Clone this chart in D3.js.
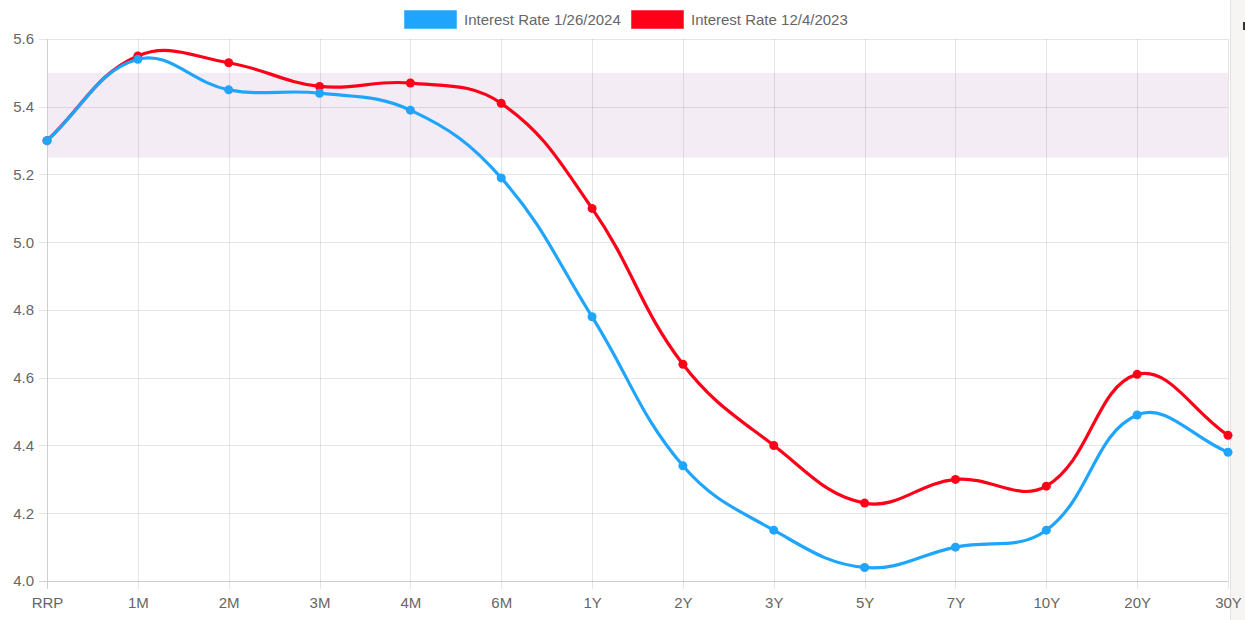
<!DOCTYPE html>
<html><head><meta charset="utf-8">
<script src="https://cdn.jsdelivr.net/npm/d3@7"></script>
<style>
html,body{margin:0;padding:0;background:#fff;overflow:hidden}
svg{display:block}
</style></head>
<body>
<script>
const categories = ["RRP","1M","2M","3M","4M","6M","1Y","2Y","3Y","5Y","7Y","10Y","20Y","30Y"];
const rates2024 = [5.30,5.54,5.45,5.44,5.39,5.19,4.78,4.34,4.15,4.04,4.10,4.15,4.49,4.38];
const rates2023 = [5.30,5.55,5.53,5.46,5.47,5.41,5.10,4.64,4.40,4.23,4.30,4.28,4.61,4.43];
const seriesNames = ["Interest Rate 1/26/2024","Interest Rate 12/4/2023"];
const seriesColors = ["#1fa5fd","#ff0019"];
const yTicks = [4.0,4.2,4.4,4.6,4.8,5.0,5.2,5.4,5.6];
const band = [5.25,5.50];

const W=1245,H=620;
const L=47,R=1228,T=39,B=581;
const svg=d3.select("body").append("svg").attr("width",W).attr("height",H);
const font="'Liberation Sans', Arial, Helvetica, sans-serif";

// right side panel
svg.append("rect").attr("x",1230).attr("y",0).attr("width",15).attr("height",H).attr("fill","#f6f5f4");
svg.append("line").attr("x1",1230.5).attr("x2",1230.5).attr("y1",0).attr("y2",H).attr("stroke","#e6e4e2");
svg.append("rect").attr("x",1243).attr("y",22).attr("width",2).attr("height",8).attr("fill","#333");

const x=d3.scalePoint().domain(categories).range([L,R]);
const y=d3.scaleLinear().domain([4.0,5.6]).range([B,T]);

// band
svg.append("rect").attr("x",L).attr("width",R-L)
  .attr("y",y(band[1])).attr("height",y(band[0])-y(band[1]))
  .attr("fill","#f3ecf4");

// gridlines
const g=svg.append("g");
yTicks.forEach(t=>{
  const yy=Math.round(y(t))+0.5;
  g.append("line").attr("x1",L-8).attr("x2",R).attr("y1",yy).attr("y2",yy)
   .attr("stroke", t===4.0 ? "#cfcfcf" : "rgba(0,0,0,0.1)");
});
categories.forEach((c,i)=>{
  const xx=Math.round(x(c))+0.5;
  g.append("line").attr("x1",xx).attr("x2",xx).attr("y1",T).attr("y2",B+8)
   .attr("stroke", i===0 ? "#cfcfcf" : "rgba(0,0,0,0.1)");
});

// axes labels via d3 axes
const yAxis=svg.append("g").attr("transform",`translate(${L-8},0)`)
  .call(d3.axisLeft(y).tickValues(yTicks).tickFormat(d3.format(".1f")).tickSize(0).tickPadding(5));
const xAxis=svg.append("g").attr("transform",`translate(0,${B+8})`)
  .call(d3.axisBottom(x).tickSize(0).tickPadding(8));
[yAxis,xAxis].forEach(a=>{
  a.select(".domain").remove();
  a.selectAll("text").attr("fill","#666").style("font-family",font).style("font-size","15px");
});

// Chart.js-like spline path
function splinePath(vals){
  const pts=categories.map((c,i)=>({x:x(c),y:y(vals[i])}));
  const t=0.4;
  const cps=pts.map((p,i)=>{
    const prev=pts[Math.max(0,i-1)], next=pts[Math.min(pts.length-1,i+1)];
    const d01=Math.hypot(p.x-prev.x,p.y-prev.y), d12=Math.hypot(next.x-p.x,next.y-p.y);
    let s01=d01/(d01+d12), s12=d12/(d01+d12);
    if(isNaN(s01))s01=0; if(isNaN(s12))s12=0;
    const fa=t*s01, fb=t*s12;
    const cp1={x:p.x-fa*(next.x-prev.x), y:p.y-fa*(next.y-prev.y)};
    const cp2={x:p.x+fb*(next.x-prev.x), y:p.y+fb*(next.y-prev.y)};
    const clamp=(q)=>({x:Math.max(L,Math.min(R,q.x)),y:Math.max(T,Math.min(B,q.y))});
    return {cp1:clamp(cp1),cp2:clamp(cp2)};
  });
  const path=d3.path();
  path.moveTo(pts[0].x,pts[0].y);
  for(let i=1;i<pts.length;i++){
    path.bezierCurveTo(cps[i-1].cp2.x,cps[i-1].cp2.y,cps[i].cp1.x,cps[i].cp1.y,pts[i].x,pts[i].y);
  }
  return path.toString();
}

const series=[rates2024,rates2023];
// draw second dataset first so the first is on top
[1,0].forEach(si=>{
  const vals=series[si];
  svg.append("path").attr("d",splinePath(vals)).attr("fill","none")
    .attr("stroke",seriesColors[si]).attr("stroke-width",3.2);
  svg.append("g").selectAll("circle").data(vals).join("circle")
    .attr("cx",(d,i)=>x(categories[i])).attr("cy",d=>y(d)).attr("r",4.5)
    .attr("fill",seriesColors[si]);
});

// legend
const legend=[{x:404,tx:464},{x:631,tx:691}];
seriesNames.forEach((n,i)=>{
  svg.append("rect").attr("x",legend[i].x+0.5).attr("y",10.5).attr("width",52).attr("height",18)
    .attr("fill",seriesColors[i]).attr("stroke",seriesColors[i]).attr("stroke-opacity",0.5);
  svg.append("text").attr("x",legend[i].tx).attr("y",24.5).text(n)
    .attr("fill","#666").style("font-family",font).style("font-size","15px");
});
</script>
</body></html>
